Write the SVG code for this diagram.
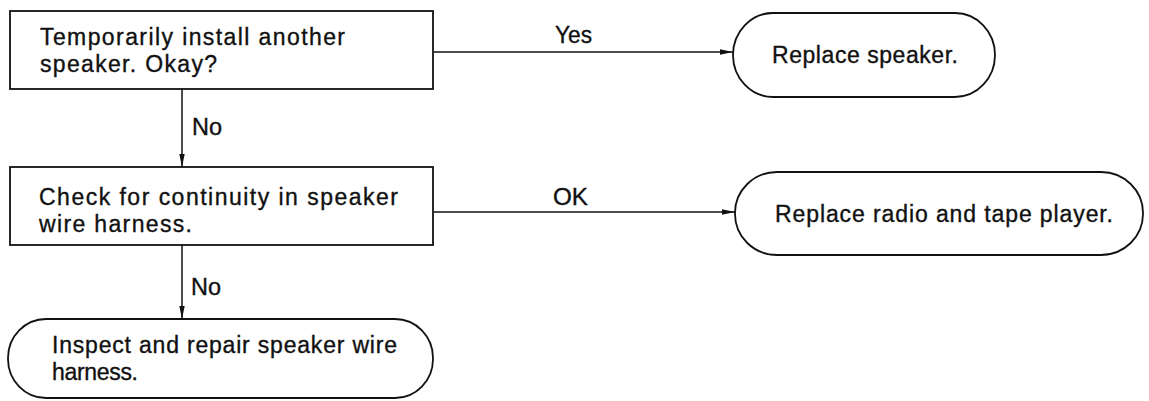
<svg xmlns="http://www.w3.org/2000/svg" width="1149" height="401" viewBox="0 0 1149 401">
<style>
text{font-family:"Liberation Sans",Arial,sans-serif;font-size:23px;fill:#111;stroke:#111;stroke-width:0.35}
.box{fill:#fff;stroke:#111;stroke-width:1.8}
.con{stroke:#111;stroke-width:1.5;fill:none}
</style>
<defs>
<marker id="ah" viewBox="0 0 13 7" refX="13" refY="3.5" markerWidth="13" markerHeight="7" markerUnits="userSpaceOnUse" orient="auto">
<path d="M0,0.8 L13,3.5 L0,6.2 Z" fill="#111"/>
</marker>
</defs>
<rect width="1149" height="401" fill="#fff"/>
<g id="connectors">
<line class="con" x1="434" y1="52" x2="733" y2="52" marker-end="url(#ah)"/>
<line class="con" x1="434" y1="212" x2="735" y2="212" marker-end="url(#ah)"/>
<line class="con" x1="182" y1="89" x2="182" y2="167" marker-end="url(#ah)"/>
<line class="con" x1="182" y1="245" x2="182" y2="319" marker-end="url(#ah)"/>
<text x="555" y="43" textLength="37" lengthAdjust="spacingAndGlyphs">Yes</text>
<text x="553" y="205" textLength="35" lengthAdjust="spacingAndGlyphs">OK</text>
<text x="192" y="135" textLength="30" lengthAdjust="spacingAndGlyphs">No</text>
<text x="191" y="295" textLength="30" lengthAdjust="spacingAndGlyphs">No</text>
</g>
<g id="n1">
<rect class="box" x="10" y="11" width="423" height="78"/>
<text x="40" y="45" textLength="305" lengthAdjust="spacing">Temporarily install another</text>
<text x="40" y="72" textLength="177" lengthAdjust="spacing">speaker.  Okay?</text>
</g>
<g id="n2">
<rect class="box" x="733" y="13" width="262" height="84" rx="40" ry="42"/>
<text x="772" y="63" textLength="186" lengthAdjust="spacing">Replace speaker.</text>
</g>
<g id="n3">
<rect class="box" x="10" y="167" width="423" height="78"/>
<text x="39" y="205" textLength="359" lengthAdjust="spacing">Check for continuity in speaker</text>
<text x="39" y="232" textLength="153" lengthAdjust="spacing">wire harness.</text>
</g>
<g id="n4">
<rect class="box" x="735" y="172" width="408" height="83" rx="42" ry="41"/>
<text x="775" y="222" textLength="338" lengthAdjust="spacing">Replace radio and tape player.</text>
</g>
<g id="n5">
<rect class="box" x="8" y="319" width="425" height="79" rx="38" ry="39"/>
<text x="52" y="353" textLength="345" lengthAdjust="spacing">Inspect and repair speaker wire</text>
<text x="52" y="380" textLength="86" lengthAdjust="spacing">harness.</text>
</g>
</svg>
